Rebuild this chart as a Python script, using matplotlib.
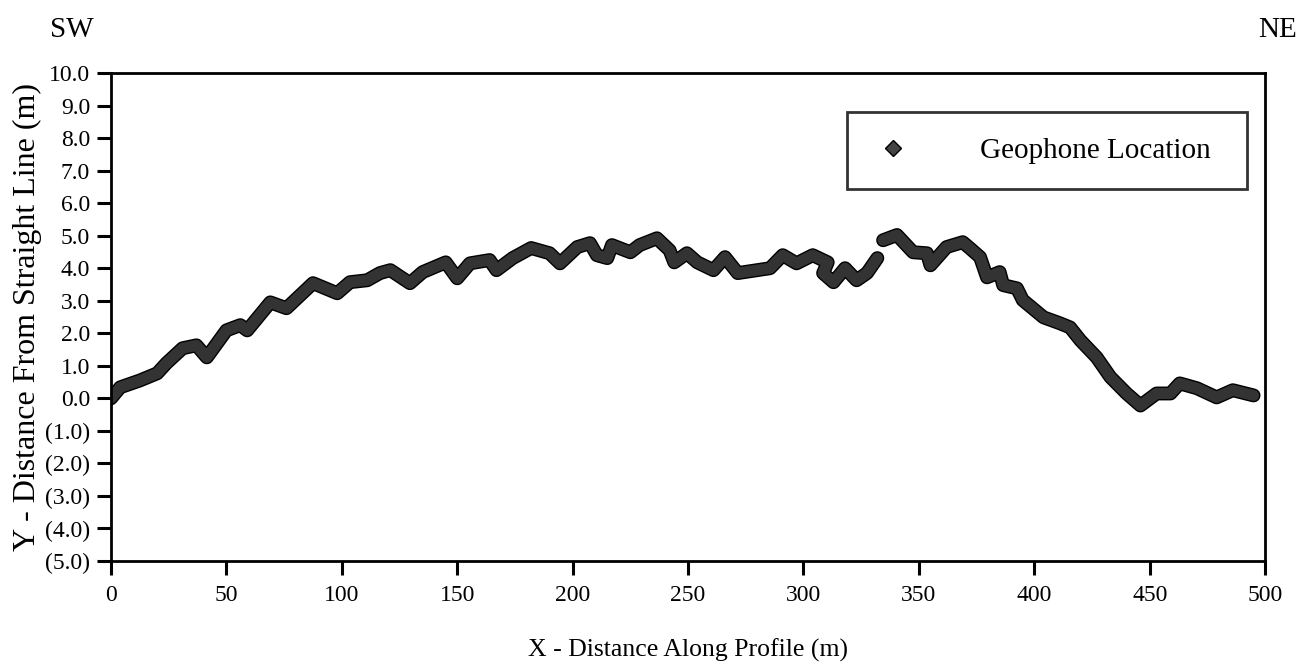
import matplotlib.pyplot as plt
import matplotlib.patheffects as pe
from matplotlib.ticker import FuncFormatter
import numpy as np

# geophone positions (m)
x_pos = [0, 4, 12.5, 20, 24, 31, 37, 41.5, 50, 56, 59, 69, 76, 87.5, 98,
         103.5, 111, 116.5, 121, 129.5, 135, 145, 150, 155.5, 164, 167, 174,
         182, 190, 194.5, 202, 207.5, 210.5, 215, 217, 225, 229, 236.5, 242,
         244, 249.5, 254, 261, 266, 271.5, 285.5, 291, 297, 304, 310.5, 308.5,
         313, 318, 323, 327.5, 332, np.nan, 334.5, 340.5, 347.5, 353.5, 355,
         362, 369, 372, 376.5, 379.5, 385, 386.5, 392.5, 395, 404, 411, 415.5,
         420, 427, 433, 440, 446, 453, 459, 463, 470.5, 479, 486, 495]
y_off = [0.0, 0.34, 0.55, 0.77, 1.08, 1.54, 1.63, 1.26, 2.09, 2.25, 2.09,
         2.95, 2.77, 3.54, 3.23, 3.57, 3.63, 3.85, 3.94, 3.54, 3.88, 4.18,
         3.69, 4.15, 4.25, 3.94, 4.31, 4.62, 4.46, 4.15, 4.65, 4.77, 4.40,
         4.31, 4.71, 4.49, 4.71, 4.92, 4.55, 4.18, 4.46, 4.18, 3.94, 4.34,
         3.85, 4.0, 4.40, 4.15, 4.40, 4.18, 3.85, 3.57, 4.0, 3.63, 3.85, 4.31,
         np.nan, 4.86, 5.02, 4.49, 4.46, 4.09, 4.65, 4.80, 4.62, 4.34, 3.72,
         3.88, 3.48, 3.38, 3.02, 2.49, 2.31, 2.18, 1.78, 1.26, 0.65, 0.15,
         -0.22, 0.15, 0.15, 0.46, 0.31, 0.03, 0.25, 0.09]

x_ticks = np.arange(0, 501, 50)
y_ticks = np.arange(-5, 10.1, 1)

plt.rcParams['font.family'] = ['Liberation Serif', 'DejaVu Serif']

fig = plt.figure(figsize=(13.11, 6.63), dpi=100)
ax = fig.add_axes([0.0847, 0.1538, 0.8803, 0.7361])

#thick ribbon of markers
ax.plot(x_pos, y_off, color='#333333', linewidth=8, solid_capstyle='round',
        solid_joinstyle='round', label='Geophone Location',
        path_effects=[pe.Stroke(linewidth=10, foreground='black'), pe.Normal()])

ax.set_xlim(0, 500)
ax.set_ylim(-5, 10)
ax.set_xticks(x_ticks)
ax.set_yticks(y_ticks)
ax.yaxis.set_major_formatter(FuncFormatter(
    lambda v, p: '(%.1f)' % abs(v) if v < -0.01 else '%.1f' % abs(v)))
ax.tick_params(direction='out', length=10, width=2.2, labelsize=17)
ax.tick_params(axis='y', pad=5)
ax.tick_params(axis='x', pad=7)

for s in ax.spines.values():
    s.set_linewidth(2)

ax.set_xlabel('X - Distance Along Profile (m)', fontsize=18.5, labelpad=24)
ax.set_ylabel('Y - Distance From Straight Line (m)', fontsize=23, labelpad=2)

#legend with a stand-in diamond marker
h = plt.Line2D([], [], marker='D', markersize=8, color='#444444',
               markeredgecolor='black', linestyle='none')
leg = ax.legend([h], ['Geophone Location'], loc='upper left', mode='expand',
                bbox_to_anchor=(0.638, 0.744, 0.346, 0.176), borderaxespad=0,
                fancybox=False, edgecolor='black', fontsize=21, borderpad=0.87,
                handlelength=1.41, handletextpad=2.27)
leg.get_frame().set_linewidth(2)

fig.text(0.038, 0.944, 'SW', fontsize=21)
fig.text(0.989, 0.944, 'NE', fontsize=21, ha='right')

plt.savefig('out.png', dpi=100)
